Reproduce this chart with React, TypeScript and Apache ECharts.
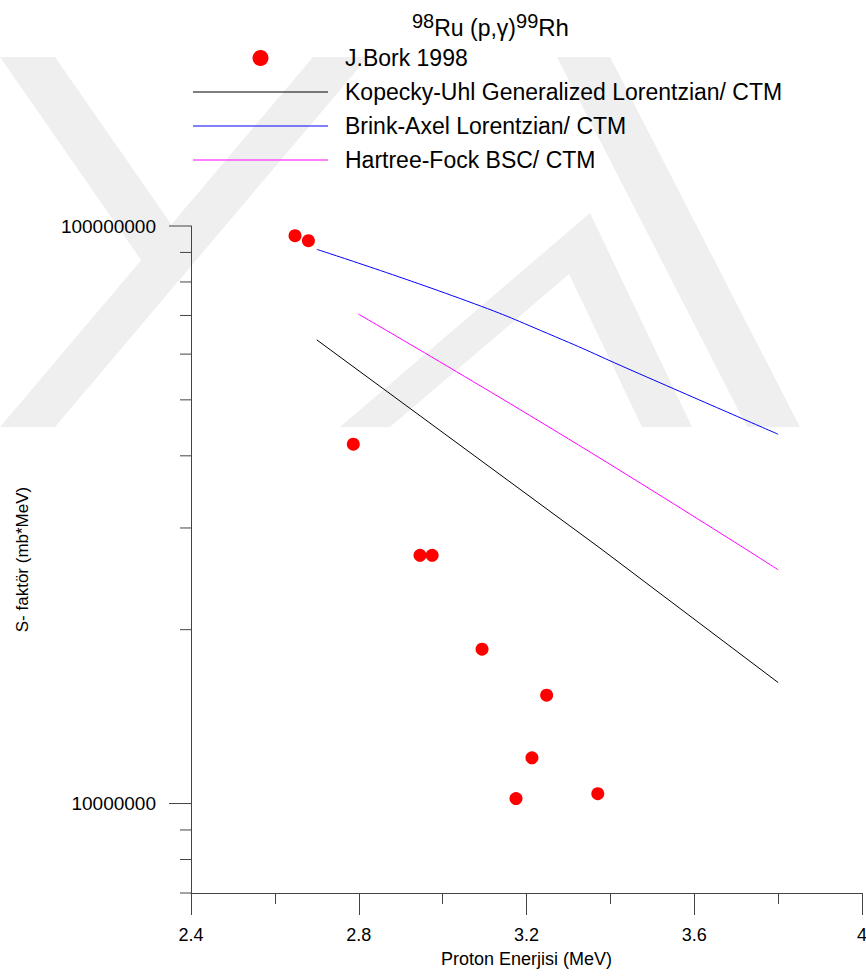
import React, { useEffect, useRef } from 'react';
import * as echarts from 'echarts';

// J.Bork 1998 measurements: proton energy (MeV) and S-factor (mb*MeV)
const borkEnergy = [2.648, 2.68, 2.787, 2.946, 2.975, 3.094, 3.248, 3.213, 3.175, 3.37];
const borkSFactor = [9.62e7, 9.43e7, 4.19e7, 2.69e7, 2.69e7, 1.85e7, 1.54e7, 1.2e7, 1.02e7, 1.04e7];

// Kopecky-Uhl Generalized Lorentzian / CTM
const kuEnergy = [2.7, 3.375, 3.8];
const kuSFactor = [6.35e7, 2.77e7, 1.62e7];

// Brink-Axel Lorentzian / CTM
const baEnergy = [2.7, 3.057, 3.269, 3.454, 3.8];
const baSFactor = [9.11e7, 7.42e7, 6.43e7, 5.61e7, 4.36e7];

// Hartree-Fock BSC / CTM
const hfEnergy = [2.799, 3.3, 3.8];
const hfSFactor = [7.04e7, 4.28e7, 2.54e7];

// Log-axis tick marks
const sMajorTicks = [1e7, 1e8];
const sMinorTicks = [7e6, 8e6, 9e6, 2e7, 3e7, 4e7, 5e7, 6e7, 7e7, 8e7, 9e7];

const seriesNames = [
  'J.Bork 1998',
  'Kopecky-Uhl Generalized Lorentzian/ CTM',
  'Brink-Axel Lorentzian/ CTM',
  'Hartree-Fock BSC/ CTM',
];

const FONT = '"Liberation Sans", Arial, Helvetica, sans-serif';
const AXIS_COLOR = '#444';
const WM = '#efefef';
const LEGEND_LINE = 'path://M0 0H135V1H0Z';

const zip = (xs: number[], ys: number[]) => xs.map((x, i) => [x, ys[i]]);

// faint background watermark made of diagonal bands
const watermarkBands: number[][][] = [
  [[0, 57], [55, 57], [196, 260], [141, 260]],
  [[313, 57], [368, 57], [55, 427], [0, 427]],
  [[340, 427], [590, 213], [692, 427], [642, 427], [569, 274], [390, 427]],
  [[557, 57], [610, 57], [800, 427], [747, 427]],
];

export default function App() {
  const ref = useRef<HTMLDivElement>(null);

  useEffect(() => {
    if (!ref.current) return;
    const chart = echarts.init(ref.current, undefined, { renderer: 'svg' });

    const tickSeries = (values: number[], len: number) => ({
      type: 'custom',
      silent: true,
      clip: false,
      z: 5,
      data: values.map((v) => [2.4, v, len]),
      renderItem: (_p: any, api: any) => {
        const pt = api.coord([api.value(0), api.value(1)]);
        const l = api.value(2);
        return {
          type: 'line',
          shape: { x1: pt[0] - l, y1: pt[1], x2: pt[0], y2: pt[1] },
          style: { stroke: AXIS_COLOR, lineWidth: 1 },
        };
      },
    });

    const curve = (name: string, color: string, xs: number[], ys: number[], smooth: number) => ({
      name,
      type: 'line',
      symbol: 'none',
      smooth,
      z: 3,
      lineStyle: { color, width: 1 },
      itemStyle: { color },
      data: zip(xs, ys),
    });

    chart.setOption({
      animation: false,
      backgroundColor: '#ffffff',
      textStyle: { fontFamily: FONT },
      title: {
        left: 412,
        top: 11,
        padding: 0,
        text: '{a|98}{b|Ru (p,γ)}{a|99}{c|Rh}',
        textStyle: {
          fontWeight: 'normal',
          rich: {
            a: { fontSize: 20, lineHeight: 18, verticalAlign: 'top', color: '#000', fontFamily: FONT, fontWeight: 'normal' },
            b: { fontSize: 23, lineHeight: 28, verticalAlign: 'bottom', color: '#000', fontFamily: FONT, fontWeight: 'normal' },
            c: { fontSize: 24, lineHeight: 28, verticalAlign: 'bottom', color: '#000', fontFamily: FONT, fontWeight: 'normal' },
          },
        },
      },
      legend: {
        orient: 'vertical',
        left: 193,
        top: 46,
        padding: 0,
        itemWidth: 135,
        itemHeight: 16,
        itemGap: 10,
        selectedMode: false,
        itemStyle: { borderWidth: 0 },
        textStyle: { fontSize: 23, lineHeight: 24, color: '#000', fontFamily: FONT, padding: [0, 0, 0, 12] },
        data: [
          { name: seriesNames[0], icon: 'circle' },
          { name: seriesNames[1], icon: LEGEND_LINE },
          { name: seriesNames[2], icon: LEGEND_LINE },
          { name: seriesNames[3], icon: LEGEND_LINE },
        ],
      },
      graphic: watermarkBands.map((pts) => ({
        type: 'polygon',
        z: -10,
        silent: true,
        shape: { points: pts },
        style: { fill: WM },
      })),
      grid: { left: 191, right: 4, top: 226, bottom: 83, outerBoundsMode: 'none', containLabel: false },
      xAxis: {
        type: 'value',
        min: 2.4,
        max: 4.0,
        interval: 0.4,
        name: 'Proton Enerjisi (MeV)',
        nameLocation: 'middle',
        nameGap: 57,
        nameTextStyle: { fontSize: 18, color: '#000', fontFamily: FONT },
        axisLine: { show: true, onZero: false, lineStyle: { color: AXIS_COLOR, width: 1 } },
        axisTick: { show: true, length: 22, lineStyle: { color: AXIS_COLOR } },
        minorTick: { show: true, splitNumber: 2, length: 11, lineStyle: { color: AXIS_COLOR } },
        axisLabel: { fontSize: 18, color: '#000', margin: 33, fontFamily: FONT },
        splitLine: { show: false },
        minorSplitLine: { show: false },
      },
      yAxis: {
        type: 'log',
        logBase: 10,
        min: 7e6,
        max: 1e8,
        name: 'S- faktör (mb*MeV)',
        nameLocation: 'middle',
        nameGap: 160,
        nameTextStyle: { fontSize: 17, color: '#000', fontFamily: FONT },
        axisLine: { show: true, lineStyle: { color: AXIS_COLOR, width: 1 } },
        axisTick: { show: false },
        axisLabel: {
          fontSize: 19,
          color: '#000',
          margin: 35,
          fontFamily: FONT,
          formatter: (v: number) => {
            const lg = Math.log10(v);
            return Math.abs(lg - Math.round(lg)) < 1e-6 ? String(Math.round(v)) : '';
          },
        },
        splitLine: { show: false },
      },
      series: [
        tickSeries(sMajorTicks, 22),
        tickSeries(sMinorTicks, 11),
        curve(seriesNames[1], '#000000', kuEnergy, kuSFactor, 0),
        curve(seriesNames[2], '#0000ff', baEnergy, baSFactor, 0.5),
        curve(seriesNames[3], '#ff00ff', hfEnergy, hfSFactor, 0.5),
        {
          name: seriesNames[0],
          type: 'scatter',
          symbol: 'circle',
          symbolSize: 13,
          z: 4,
          itemStyle: { color: '#ff0000', opacity: 1 },
          data: zip(borkEnergy, borkSFactor),
        },
      ],
    });

    return () => chart.dispose();
  }, []);

  return (
    <div
      ref={ref}
      style={{ position: 'absolute', left: 0, top: 0, width: 866, height: 976 }}
    />
  );
}
